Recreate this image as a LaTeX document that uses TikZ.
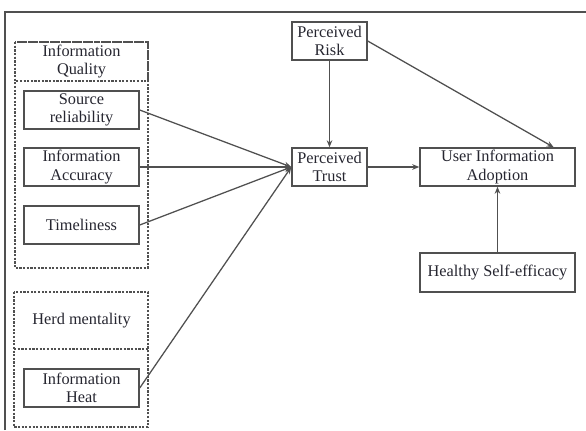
\documentclass[tikz,border=0pt]{standalone}
\usepackage{fontspec}
\setmainfont{Liberation Serif}
\usetikzlibrary{arrows.meta}
\definecolor{linegray}{HTML}{505050}
\definecolor{textgray}{HTML}{262630}
\begin{document}
\begin{tikzpicture}[x=0.025cm,y=-0.025cm,
    font=\fontsize{11.6}{13}\selectfont,
    varbox/.style={draw=linegray,line width=1pt,align=center,text=textgray,
      minimum width=2.875cm,minimum height=0.95cm,inner sep=1pt},
    groupbox/.style={draw=linegray,dash pattern=on 1.6pt off 1pt,line width=0.9pt},
    path/.style={draw=linegray,line width=0.9pt,-{Stealth[length=5pt,width=4pt]}}]
    \useasboundingbox (0,0) rectangle (586,430);
    \draw[line width=1.6pt,linegray] (5,430) -- (5,12) -- (586,12);

    % information quality group
    \draw[groupbox] (15,42) rectangle (148,268);
    \draw[groupbox] (15,42) rectangle (148,81);
    \node[text=textgray,align=center] (iq) at (81.5,61.5) {Information\\Quality};
    \node[varbox] (sr) at (81.5,110) {Source\\reliability};
    \node[varbox] (ia) at (81.5,167) {Information\\Accuracy};
    \node[varbox] (tl) at (81.5,225) {Timeliness};

    % herd mentality group
    \draw[groupbox] (14,292) rectangle (148,427);
    \draw[groupbox] (14,349) -- (148,349);
    \node[text=textgray] (hm) at (81.5,321) {Herd mentality};
    \node[varbox] (ih) at (81.5,388) {Information\\Heat};

    \node[varbox,minimum width=1.875cm] (pr) at (329.5,41) {Perceived\\Risk};
    \node[varbox,minimum width=1.875cm] (pt) at (329.5,167) {Perceived\\Trust};
    \node[varbox,minimum width=3.875cm] (uia) at (497.5,167) {User Information\\Adoption};
    \node[varbox,minimum width=3.875cm,minimum height=0.975cm] (hse) at (497.5,272.5) {Healthy Self-efficacy};

    \draw[path] (sr.east) -- (pt.west);
    \draw[path] (ia.east) -- (pt.west);
    \draw[path] (tl.east) -- (pt.west);
    \draw[path] (ih.east) -- (pt.west);
    \draw[path] (pr.south) -- (pt.north);
    \draw[path] (pr.east) -- ([xshift=-0.55cm]uia.north east);
    \draw[path] (pt.east) -- (uia.west);
    \draw[path] (hse.north) -- (uia.south);
  \end{tikzpicture}
\end{document}
